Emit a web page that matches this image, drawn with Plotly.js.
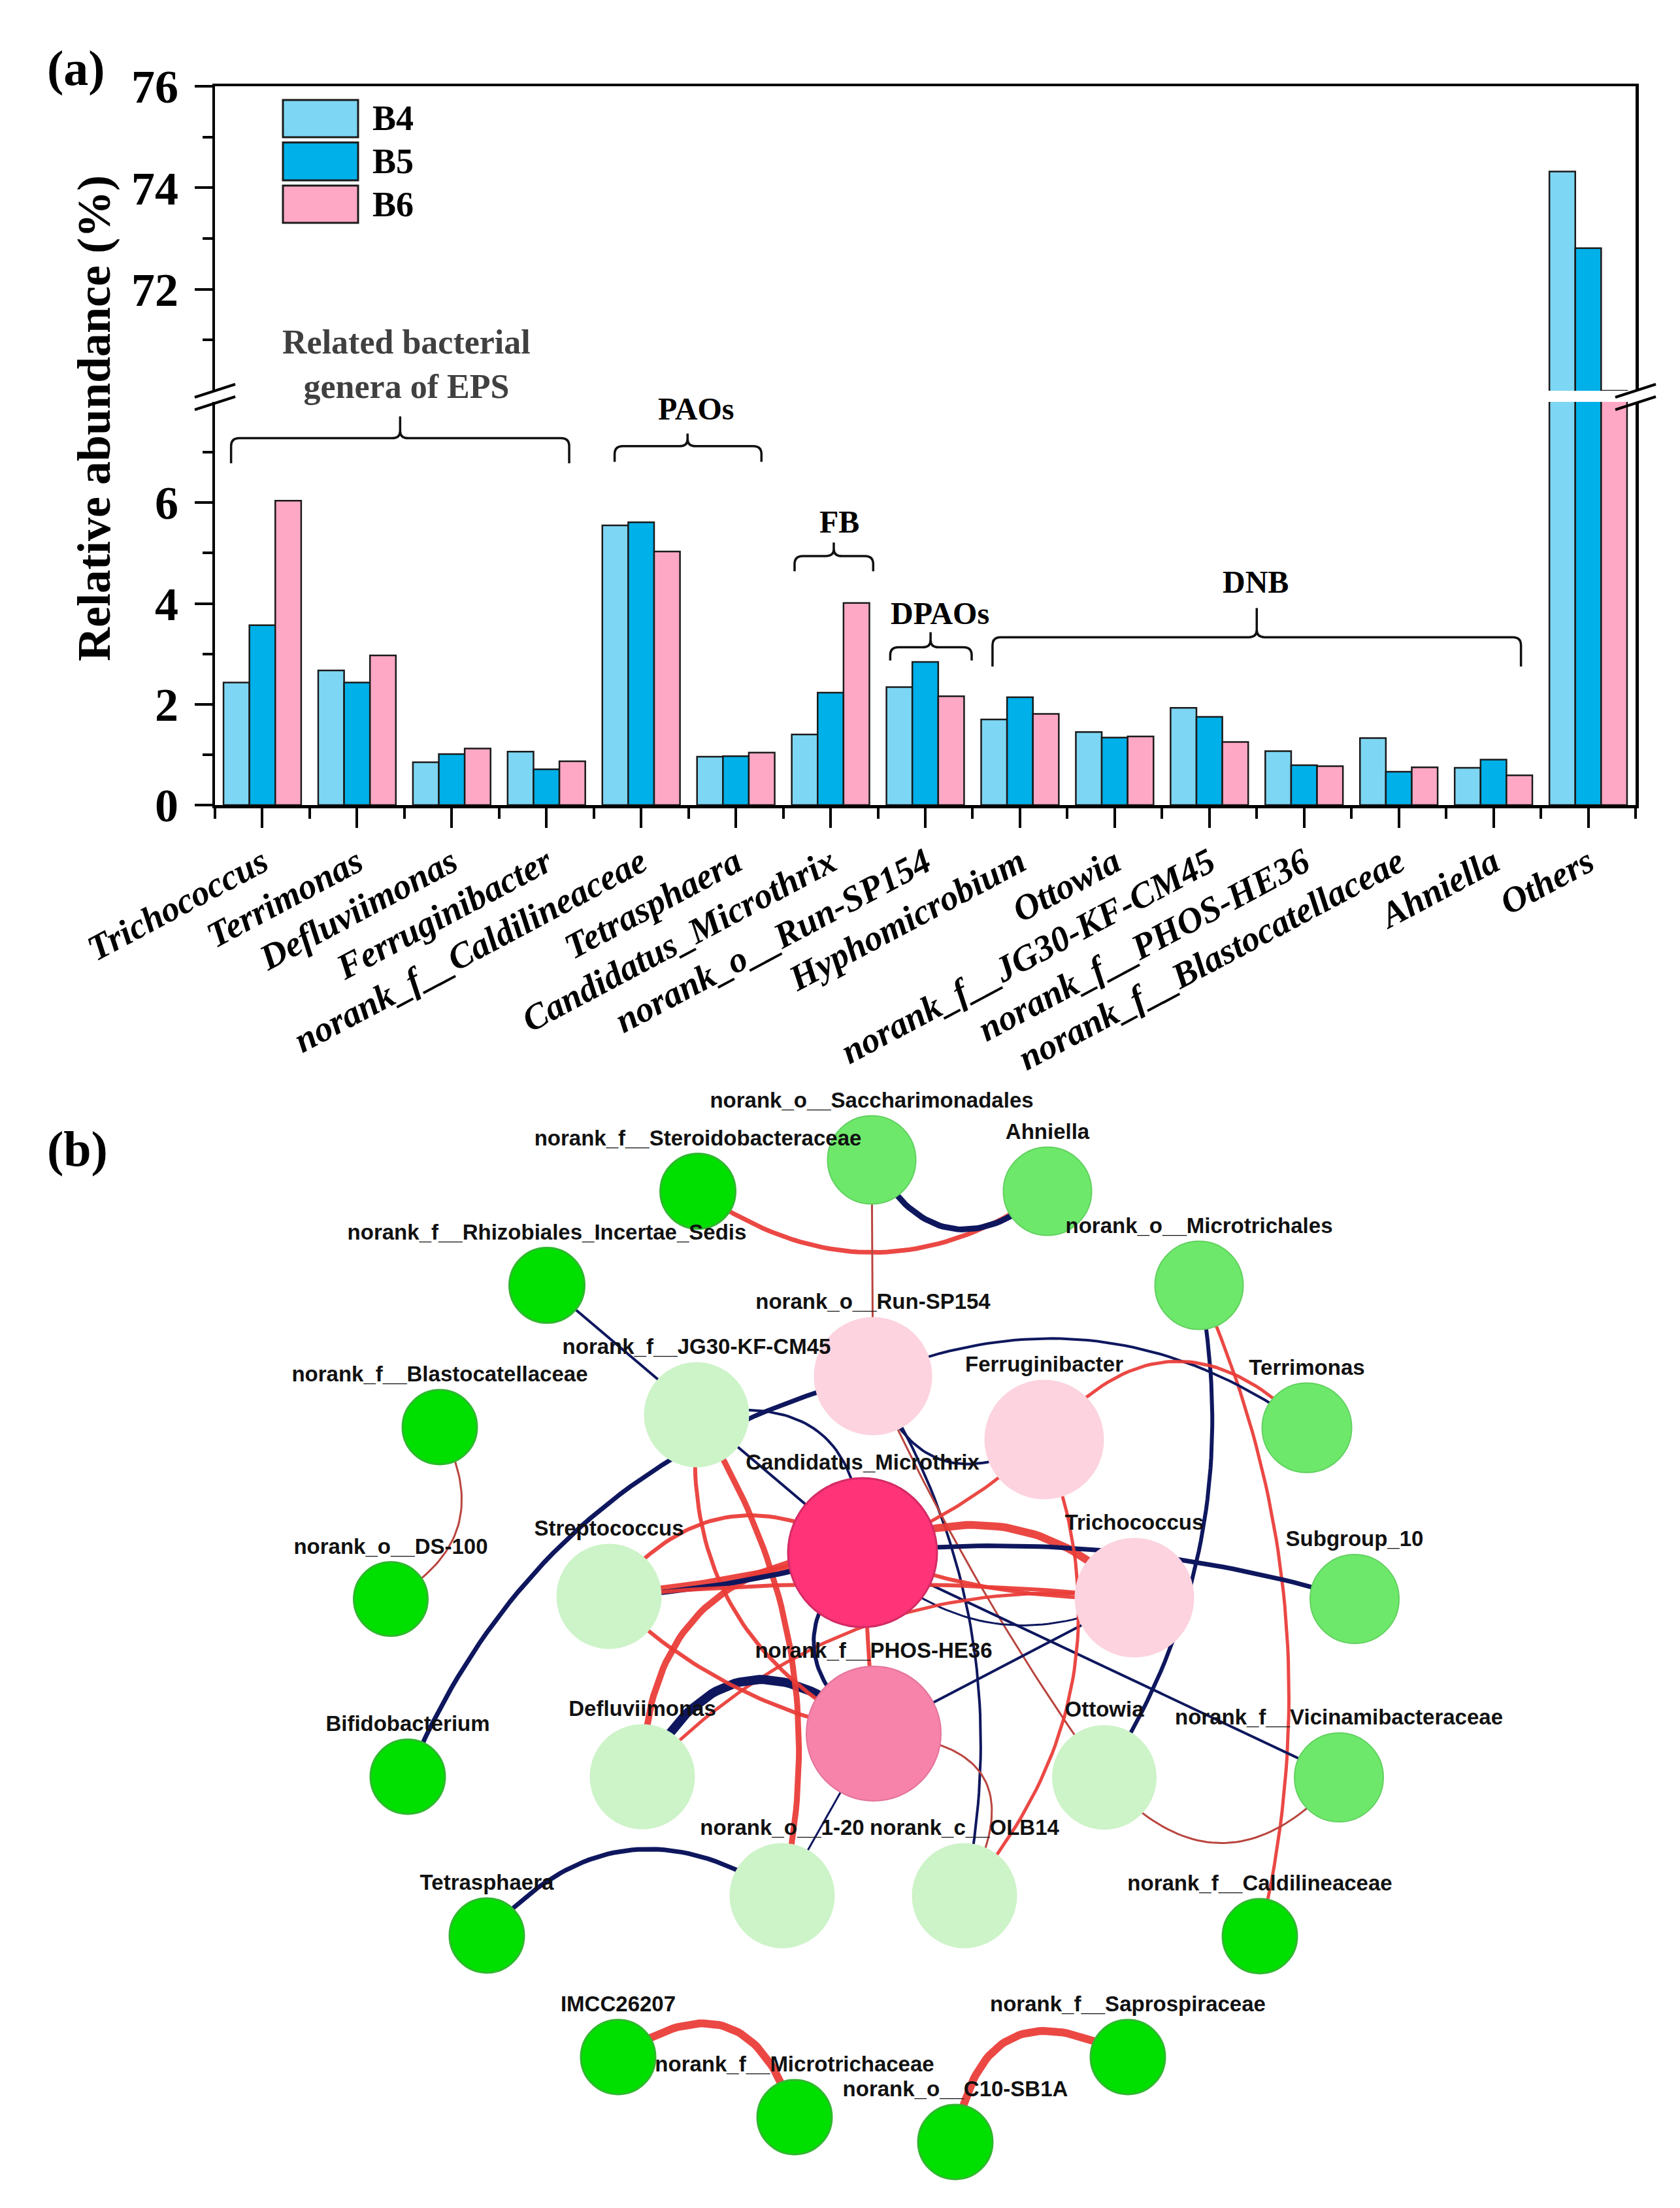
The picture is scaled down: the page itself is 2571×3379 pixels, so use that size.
<!DOCTYPE html>
<html><head><meta charset="utf-8">
<script src="https://cdn.plot.ly/plotly-3.0.1.min.js"></script>
<style>html,body{margin:0;padding:0;background:#fff;}#chart{width:2571px;height:3379px;}</style>
</head><body><div id="chart"></div>
<script>
// ---------------- Panel (a) data ----------------
const categories = ["Trichococcus","Terrimonas","Defluviimonas","Ferruginibacter","norank_f__Caldilineaceae","Tetrasphaera","Candidatus_Microthrix","norank_o__Run-SP154","Hyphomicrobium","Ottowia","norank_f__JG30-KF-CM45","norank_f__PHOS-HE36","norank_f__Blastocatellaceae","Ahniella","Others"];
const seriesNames = ["B4","B5","B6"];
const valuesB4 = [2.43,2.67,0.85,1.06,5.55,0.96,1.40,2.34,1.70,1.45,1.93,1.07,1.33,0.74,74.32];
const valuesB5 = [3.57,2.43,1.01,0.71,5.61,0.97,2.23,2.84,2.14,1.34,1.75,0.79,0.66,0.90,72.81];
const valuesB6 = [6.04,2.97,1.12,0.87,5.03,1.04,4.01,2.16,1.81,1.36,1.25,0.77,0.75,0.59,70.0];
const lowerTickVals = [0,2,4,6];
const lowerMinorVals = [1,3,5,7];
const upperTickVals = [72,74,76];
const upperMinorVals = [71,73,75];
const yTitle = "Relative abundance (%)";
const groupLabels = ["Related bacterial<br>genera of EPS","PAOs","FB","DPAOs","DNB"];
const groupFrom = [-0.33,3.72,5.62,6.63,7.71];
const groupTo = [3.24,5.27,6.45,7.49,13.29];

// ---------------- Panel (b) data ----------------
const nodeNames = ["norank_o__Saccharimonadales","norank_f__Steroidobacteraceae","Ahniella","norank_f__Rhizobiales_Incertae_Sedis","norank_o__Microtrichales","norank_o__Run-SP154","norank_f__JG30-KF-CM45","Ferruginibacter","Terrimonas","norank_f__Blastocatellaceae","Candidatus_Microthrix","Trichococcus","Streptococcus","Subgroup_10","norank_o__DS-100","norank_f__PHOS-HE36","Defluviimonas","Ottowia","norank_f__Vicinamibacteraceae","Bifidobacterium","norank_o__1-20","norank_c__OLB14","Tetrasphaera","norank_f__Caldilineaceae","IMCC26207","norank_f__Saprospiraceae","norank_f__Microtrichaceae","norank_o__C10-SB1A"];
const nodeX = [1334,1068,1603,837,1835,1336,1066,1598,2000,673,1320,1736,932,2073,598,1337,983,1690,2049,624,1197,1476,745,1928,946,1726,1216,1462];
const nodeY = [1775,1823,1823,1967,1967,2106,2165,2203,2185,2184,2376,2445,2443,2447,2447,2653,2719,2720,2720,2719,2901,2901,2962,2963,3148,3148,3240,3278];
const nodeSize = [135,115,135,115,135,181,161,183,137,114,228,183,161,136,113,206,161,160,136,114,161,161,114,114,114,114,114,114];
const nodeGroup = [1,0,1,0,1,3,2,3,1,0,5,3,2,1,0,4,2,2,1,0,2,2,0,0,0,0,0,0];

const edgeSource = ["norank_f__Steroidobacteraceae","norank_o__Saccharimonadales","norank_o__Saccharimonadales","norank_f__Rhizobiales_Incertae_Sedis","norank_f__Blastocatellaceae","norank_o__Microtrichales","norank_o__Microtrichales","norank_o__Run-SP154","Ferruginibacter","Bifidobacterium","norank_f__JG30-KF-CM45","norank_o__Run-SP154","norank_o__Run-SP154","norank_o__Run-SP154","Candidatus_Microthrix","Candidatus_Microthrix","Candidatus_Microthrix","Candidatus_Microthrix","Candidatus_Microthrix","Candidatus_Microthrix","norank_f__PHOS-HE36","Defluviimonas","Defluviimonas","Defluviimonas","norank_f__PHOS-HE36","Candidatus_Microthrix","norank_f__JG30-KF-CM45","norank_f__JG30-KF-CM45","Streptococcus","Streptococcus","Streptococcus","Streptococcus","Streptococcus","Ferruginibacter","norank_f__PHOS-HE36","norank_f__PHOS-HE36","Ottowia","Tetrasphaera","IMCC26207","norank_o__C10-SB1A"];
const edgeTarget = ["Ahniella","Ahniella","norank_o__Run-SP154","Candidatus_Microthrix","norank_o__DS-100","norank_f__Caldilineaceae","Ottowia","Terrimonas","Terrimonas","norank_o__Run-SP154","Candidatus_Microthrix","Ferruginibacter","norank_c__OLB14","Ottowia","Trichococcus","Trichococcus","Trichococcus","Ferruginibacter","Subgroup_10","norank_f__Vicinamibacteraceae","Trichococcus","Trichococcus","Candidatus_Microthrix","norank_f__PHOS-HE36","Candidatus_Microthrix","norank_f__PHOS-HE36","norank_f__PHOS-HE36","norank_o__1-20","Candidatus_Microthrix","Candidatus_Microthrix","Candidatus_Microthrix","Trichococcus","norank_f__PHOS-HE36","norank_c__OLB14","norank_c__OLB14","norank_o__1-20","norank_f__Vicinamibacteraceae","norank_o__1-20","norank_f__Microtrichaceae","norank_f__Saprospiraceae"];
const edgeSign = ["+","-","+","-","+","+","-","-","+","-","-","-","-","+","+","+","-","+","-","-","-","+","+","-","-","+","+","+","+","-","+","+","+","+","+","-","+","-","+","+"];
const edgeWeight = [7,9,3,4,3,5,6,4,5,7,4,4,4,3,12,6,3,5,7,4,4,5,10,14,6,6,6,9,12,8,6,6,6,5,3,3,3,7,12,12];
const edgeBend = [0.35,0.6,0,0,-0.5,-0.17,-0.2,-0.28,-0.55,-0.25,-0.6,0.6,-0.2,0.05,-0.35,0.1,0.35,0.1,-0.1,0,0,-0.25,-0.47,-0.64,-0.6,0,0.34,-0.21,0.03,0.06,-0.45,-0.05,0.15,-0.3,-0.8,0,0.56,-0.44,-0.68,-0.71];

// ---------------- styles / geometry ----------------
const W = 2571, H = 3379;
const px = v => v / W, py = v => 1 - v / H;
const serif = "Liberation Serif, Times New Roman, serif";
const sans = "Liberation Sans, Arial, sans-serif";
const seriesColors = ["#7dd6f3", "#00b0e8", "#ffa8c5"];
const xDom = [px(329), px(2503)];
const lowDom = [py(1232), py(615)];
const upDom = [py(598), py(132)];
const idx = categories.map((_, i) => i);
const boundaries = categories.map((_, i) => i - 0.5).concat([categories.length - 0.5]);
const xToPaper = v => xDom[0] + (v + 0.5) / categories.length * (xDom[1] - xDom[0]);
const yLowToPaper = v => lowDom[0] + v / 8 * (lowDom[1] - lowDom[0]);

const bracketStyle = [
  {line: 7.28, end: 6.78, tip: 7.71, tipX: 1.455, labX: 1.52, labY: 8.75, color: "#404040", size: 52},
  {line: 7.12, end: 6.81, tip: 7.37, tipX: 4.49, labX: 4.576, labY: 7.86, color: "#000", size: 48},
  {line: 4.94, end: 4.64, tip: 5.21, tipX: 6.034, labX: 6.094, labY: 5.62, color: "#000", size: 48},
  {line: 3.13, end: 2.87, tip: 3.43, tipX: 7.056, labX: 7.153, labY: 3.80, color: "#000", size: 48},
  {line: 3.33, end: 2.75, tip: 3.91, tipX: 10.50, labX: 10.49, labY: 4.43, color: "#000", size: 48}
];

const traces = [];
const seriesValues = [valuesB4, valuesB5, valuesB6];
[["x", "y"], ["x2", "y2"]].forEach(([xa, ya]) => {
  seriesValues.forEach((vals, k) => traces.push({
    type: "bar", x: idx, y: vals, name: seriesNames[k], xaxis: xa, yaxis: ya,
    marker: {color: seriesColors[k], line: {color: "#1a1a1a", width: 2.5}},
    hoverinfo: "skip", showlegend: false
  }));
});

// network edges
const nodeIndex = {};
nodeNames.forEach((n, i) => nodeIndex[n] = i);
edgeSource.forEach((s, k) => {
  const a = nodeIndex[s], b = nodeIndex[edgeTarget[k]];
  const x0 = nodeX[a], y0 = nodeY[a], x1 = nodeX[b], y1 = nodeY[b];
  const dx = x1 - x0, dy = y1 - y0, L = Math.hypot(dx, dy);
  const cx = (x0 + x1) / 2 + edgeBend[k] * L * (-dy / L);
  const cy = (y0 + y1) / 2 + edgeBend[k] * L * (dx / L);
  const xs = [], ys = [];
  for (let i = 0; i <= 48; i++) {
    const t = i / 48, u = 1 - t;
    xs.push(u * u * x0 + 2 * t * u * cx + t * t * x1);
    ys.push(u * u * y0 + 2 * t * u * cy + t * t * y1);
  }
  const col = edgeSign[k] === "+" ? (edgeWeight[k] <= 3 ? "#b9453f" : "rgba(234,58,54,0.93)") : "#0e175e";
  traces.push({type: "scatter", mode: "lines", x: xs, y: ys, xaxis: "x3", yaxis: "y3",
    line: {color: col, width: edgeWeight[k]}, hoverinfo: "skip", showlegend: false});
});

const groupFill = ["#00e000", "#6ee86b", "#cdf3c8", "#fcd3de", "#f783aa", "#ff3478"];
const groupLine = ["#2fb82f", "#62d160", "#cdf3c8", "#fcd3de", "#e3739b", "#d42a66"];
const groupLineW = [3, 2, 0, 0, 2, 3];
traces.push({type: "scatter", mode: "markers", x: nodeX, y: nodeY, xaxis: "x3", yaxis: "y3",
  marker: {size: nodeSize, color: nodeGroup.map(g => groupFill[g]),
    line: {color: nodeGroup.map(g => groupLine[g]), width: nodeGroup.map(g => groupLineW[g])}, opacity: 1},
  hoverinfo: "skip", showlegend: false});
traces.push({type: "scatter", mode: "text", x: nodeX, y: nodeY.map((y, i) => y - nodeSize[i] / 2 - 21),
  text: nodeNames, textposition: "middle center", xaxis: "x3", yaxis: "y3",
  textfont: {family: sans, size: 33, color: "#111", weight: "bold"},
  hoverinfo: "skip", showlegend: false, cliponaxis: false});

// ---------------- shapes ----------------
const shapes = [];
const f = v => v.toFixed(4);
groupLabels.forEach((lab, k) => {
  const s = bracketStyle[k], x0 = groupFrom[k], x1 = groupTo[k], xt = s.tipX;
  const r = 0.085, ry = 0.16;
  const yl = s.line, ye = s.end, yt = s.tip;
  const path = `M${f(x0)},${f(ye)} L${f(x0)},${f(yl - ry)} Q${f(x0)},${f(yl)} ${f(x0 + r)},${f(yl)} L${f(xt - r)},${f(yl)} Q${f(xt)},${f(yl)} ${f(xt)},${f(yl + ry * 0.9)} L${f(xt)},${f(yt)} M${f(xt)},${f(yl + ry * 0.9)} Q${f(xt)},${f(yl)} ${f(xt + r)},${f(yl)} L${f(x1 - r)},${f(yl)} Q${f(x1)},${f(yl)} ${f(x1)},${f(yl - ry)} L${f(x1)},${f(ye)}`;
  shapes.push({type: "path", xref: "x", yref: "y", path: path, line: {color: "#111", width: 3.5}, fillcolor: "rgba(0,0,0,0)", layer: "above"});
});
// axis break marks
[329, 2503].forEach(ax => {
  [598, 617].forEach(yb => {
    shapes.push({type: "line", xref: "paper", yref: "paper", x0: px(ax - 31), y0: py(yb + 10), x1: px(ax + 31), y1: py(yb - 10),
      line: {color: "#000", width: 4}, layer: "above"});
  });
});
// legend swatches
const legTop = [153, 218, 284], legBot = [210, 276, 341];
seriesNames.forEach((n, k) => {
  shapes.push({type: "rect", xref: "paper", yref: "paper", x0: px(433), x1: px(548), y0: py(legBot[k]), y1: py(legTop[k]),
    fillcolor: seriesColors[k], line: {color: "#1a1a1a", width: 3}, layer: "above"});
});

// ---------------- annotations ----------------
const annotations = [];
seriesNames.forEach((n, k) => annotations.push({xref: "paper", yref: "paper", x: px(568), y: py((legTop[k] + legBot[k]) / 2),
  xanchor: "left", yanchor: "middle", text: n, showarrow: false, font: {family: serif, size: 54, color: "#000", weight: "bold"}}));
groupLabels.forEach((lab, k) => {
  const s = bracketStyle[k];
  annotations.push({xref: "paper", yref: "paper", x: xToPaper(s.labX), y: yLowToPaper(s.labY), xanchor: "center", yanchor: "middle",
    text: lab, showarrow: false, align: "center", font: {family: serif, size: s.size, color: s.color, weight: "bold"}});
});
annotations.push({xref: "paper", yref: "paper", x: px(144), y: py(640), text: yTitle, textangle: -90, showarrow: false,
  xanchor: "center", yanchor: "middle", font: {family: serif, size: 72, color: "#000", weight: "bold"}});
annotations.push({xref: "paper", yref: "paper", x: px(116), y: py(104), text: "(a)", showarrow: false,
  xanchor: "center", yanchor: "middle", font: {family: serif, size: 76, color: "#000", weight: "bold"}});
annotations.push({xref: "paper", yref: "paper", x: px(118), y: py(1758), text: "(b)", showarrow: false,
  xanchor: "center", yanchor: "middle", font: {family: serif, size: 76, color: "#000", weight: "bold"}});

const tickFontY = {family: serif, size: 72, color: "#000", weight: "bold"};
const layout = {
  width: W, height: H, margin: {l: 0, r: 0, t: 0, b: 0},
  paper_bgcolor: "#fff", plot_bgcolor: "rgba(0,0,0,0)", showlegend: false,
  barmode: "group", bargap: 0.18, bargroupgap: 0,
  font: {family: serif, color: "#000"},
  xaxis: {domain: xDom, anchor: "y", range: [-0.5, categories.length - 0.5], tickmode: "array", tickvals: idx, ticktext: categories,
    tickangle: -28, ticks: "outside", ticklen: 30, tickwidth: 4, tickcolor: "#000",
    showline: true, linewidth: 4.5, linecolor: "#000", zeroline: false, showgrid: false, fixedrange: true,
    tickfont: {family: serif, size: 55, color: "#000", style: "italic", weight: "bold"},
    minor: {tickmode: "array", tickvals: boundaries, ticks: "outside", ticklen: 16, tickwidth: 4, tickcolor: "#000", showgrid: false}},
  yaxis: {domain: lowDom, anchor: "x", range: [0, 8], tickmode: "array", tickvals: lowerTickVals,
    ticks: "outside", ticklen: 27, tickwidth: 4, tickcolor: "#000", showline: true, mirror: true, linewidth: 4.5, linecolor: "#000",
    zeroline: false, showgrid: false, tickfont: tickFontY, ticklabelstandoff: 10,
    minor: {tickmode: "array", tickvals: lowerMinorVals, ticks: "outside", ticklen: 15, tickwidth: 4, tickcolor: "#000", showgrid: false}},
  xaxis2: {domain: xDom, anchor: "y2", range: [-0.5, categories.length - 0.5], showticklabels: false, ticks: "",
    showline: true, side: "top", linewidth: 4.5, linecolor: "#000", zeroline: false, showgrid: false},
  yaxis2: {domain: upDom, anchor: "x2", range: [70, 76], tickmode: "array", tickvals: upperTickVals,
    ticks: "outside", ticklen: 27, tickwidth: 4, tickcolor: "#000", showline: true, mirror: true, linewidth: 4.5, linecolor: "#000",
    zeroline: false, showgrid: false, tickfont: tickFontY, ticklabelstandoff: 10,
    minor: {tickmode: "array", tickvals: upperMinorVals, ticks: "outside", ticklen: 15, tickwidth: 4, tickcolor: "#000", showgrid: false}},
  xaxis3: {domain: [0, 1], anchor: "y3", range: [0, W], visible: false, fixedrange: true},
  yaxis3: {domain: [0, py(1600)], anchor: "x3", range: [H, 1600], visible: false, fixedrange: true},
  shapes: shapes, annotations: annotations
};
Plotly.newPlot("chart", traces, layout, {staticPlot: true, responsive: false});
</script></body></html>
